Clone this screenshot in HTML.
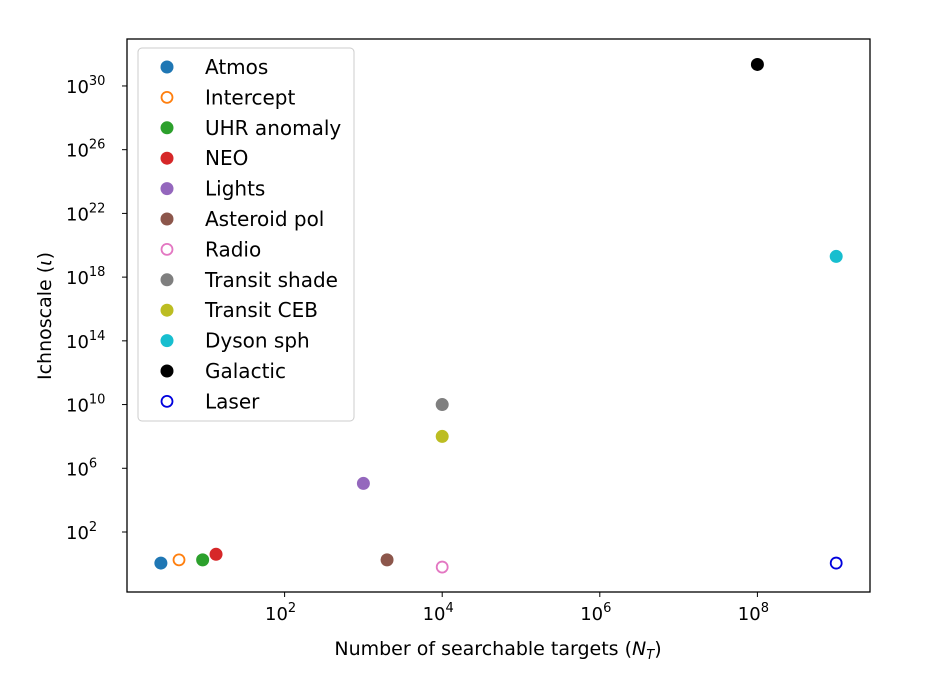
<!DOCTYPE html>
<html><head><meta charset="utf-8"><style>
body{margin:0;background:#fff;font-family:"DejaVu Sans","Liberation Sans",sans-serif;}
svg text{font-family:"DejaVu Sans","Liberation Sans",sans-serif;fill:#000;}
</style></head><body>
<svg width="928" height="675" id="c">
<rect x="127" y="39" width="743" height="553" fill="none" stroke="#000" stroke-width="1.3"/>
<g id="ticks"></g><g id="pts"></g>
<text x="498" y="655" font-size="19" text-anchor="middle">Number of searchable targets (<tspan font-style="italic">N</tspan><tspan font-style="italic" font-size="13" dy="4">T</tspan><tspan dy="-4">)</tspan></text>
<text transform="translate(51,316) rotate(-90)" font-size="19" text-anchor="middle">Ichnoscale (<tspan font-style="italic">ι</tspan>)</text>
<g id="legend"></g>
</svg>
<script>
const names=["Atmos","Intercept","UHR anomaly","NEO","Lights","Asteroid pol","Radio","Transit shade","Transit CEB","Dyson sph","Galactic","Laser"];
const xLog=[0.43,0.66,0.96,1.13,3.0,3.3,4.0,4.0,4.0,9.0,8.0,9.0];
const yLog=[0.05,0.25,0.25,0.6,5.05,0.25,-0.2,10.0,8.0,19.3,31.35,0.05];
const colors=["#1f77b4","#ff7f0e","#2ca02c","#d62728","#9467bd","#8c564b","#e377c2","#7f7f7f","#bcbd22","#17becf","#000000","#0000dd"];
const hollow=[false,true,false,false,false,false,true,false,false,false,false,true];
const xTicks=[2,4,6,8];
const yTicks=[2,6,10,14,18,22,26,30];
const NS="http://www.w3.org/2000/svg";
function X(v){return 127+v*78.8;}
function Y(v){return 532-(v-2)*15.93;}
function mk(t,a,p){const e=document.createElementNS(NS,t);for(const k in a)e.setAttribute(k,a[k]);p.appendChild(e);return e;}
const tk=document.getElementById('ticks');
xTicks.forEach(v=>{const x=X(v);
 const l=mk('line',{x1:x,x2:x,y1:592,y2:597,stroke:'#000'},tk);
 
 
 const t=mk('text',{x:x-4,y:620,'font-size':18,'text-anchor':'middle'},tk);
 
 
 t.innerHTML='10<tspan font-size="13" dy="-8">'+v+'</tspan>';});
yTicks.forEach(v=>{const y=Y(v);
 const l=mk('line',{x1:122,x2:127,y1:y,y2:y,stroke:'#000'},tk);
 
 
 const t=mk('text',{x:66,y:y+7,'font-size':18},tk);
 
 
 t.innerHTML='10<tspan font-size="13" dy="-8">'+v+'</tspan>';});
const pg=document.getElementById('pts');
names.forEach((n,i)=>{
 const c=mk('circle',{cx:X(xLog[i]),cy:Y(yLog[i]),r:hollow[i]?5.5:6.5,fill:hollow[i]?'#fff':colors[i],stroke:colors[i],'stroke-width':hollow[i]?1.8:0},pg);
 
 });
const lg=document.getElementById('legend');
const box=mk('rect',{x:138,y:48,width:216,height:373,rx:4,fill:'#fff',stroke:'#ccc','stroke-width':1},lg);


names.forEach((n,i)=>{const y=67+i*30.4;
 mk('circle',{cx:167,cy:y,r:hollow[i]?5.5:6.5,fill:hollow[i]?'#fff':colors[i],stroke:colors[i],'stroke-width':hollow[i]?1.8:0},lg);
 const t=mk('text',{x:205,y:y+7,'font-size':20},lg);
 
 
 t.textContent=n;});
</script>
</body></html>
